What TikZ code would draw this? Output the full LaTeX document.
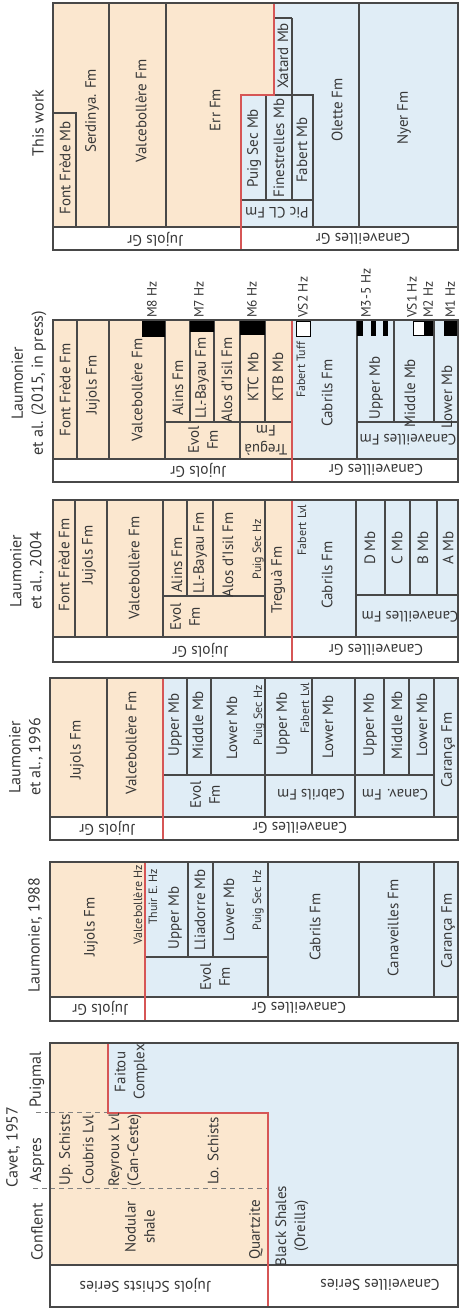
\documentclass[tikz,border=0pt]{standalone}
\usepackage{fontspec}
\setmainfont{PT Sans}
\definecolor{peach}{RGB}{251,231,207}
\definecolor{sky}{RGB}{224,237,246}
\definecolor{redc}{RGB}{214,86,86}
\definecolor{lc}{RGB}{72,72,72}
\definecolor{txt}{RGB}{55,55,55}
\newcommand\fmain{\fontsize{15}{19}\selectfont}
\newcommand\fsmall{\fontsize{12}{13}\selectfont}
\newcommand\fhz{\fontsize{13.5}{14}\selectfont}
\newcommand\fband{\fontsize{15.5}{18}\selectfont}
\newcommand\ftitle{\fontsize{16}{20}\selectfont}
\tikzset{
  ln/.style={draw=lc, line width=1.1pt},
  frm/.style={draw=lc, line width=1.6pt},
  rl/.style={draw=redc, line width=1.2pt},
  dl/.style={draw=gray, line width=0.9pt, dash pattern=on 5pt off 4pt},
  lbl/.style={rotate=90, font=\fmain, text=txt, inner sep=0pt, align=center},
  lblr/.style={rotate=180, font=\fmain, text=txt, inner sep=0pt, align=center},
  sml/.style={rotate=90, font=\fsmall, text=txt, inner sep=0pt, align=center},
  hz/.style={rotate=90, font=\fhz, text=txt, inner sep=0pt, anchor=west},
  bnd/.style={rotate=180, font=\fband, text=txt, inner sep=0pt},
  ttl/.style={rotate=90, font=\ftitle, text=txt, inner sep=0pt, align=center},
  blk/.style={fill=black},
  wbx/.style={fill=white, draw=black, line width=0.9pt}
}
\begin{document}
\begin{tikzpicture}[x=1pt,y=-1pt]
\useasboundingbox (0,0) rectangle (460,1309);
\fill[white] (0,0) rectangle (460,1309);

%% ================= Panel 1: This work
\fill[peach] (53,3) -- (274,3) -- (274,95) -- (241,95) -- (241,227) -- (53,227) -- cycle;
\fill[sky] (274,3) -- (458,3) -- (458,227) -- (241,227) -- (241,95) -- (274,95) -- cycle;
\draw[ln] (53,227) -- (458,227);
\draw[ln] (109,3) -- (109,227);
\draw[ln] (166,3) -- (166,227);
\draw[ln] (53,113) -- (76,113) -- (76,227);
\draw[ln] (274,95) -- (313,95) -- (313,227);
\draw[ln] (241,200) -- (313,200);
\draw[ln] (266,95) -- (266,200);
\draw[ln] (292,18) -- (292,200);
\draw[ln] (274,18) -- (292,18);
\draw[ln] (359,3) -- (359,227);
\draw[rl] (274,3) -- (274,95) -- (241,95) -- (241,250);
\draw[frm] (53,3) rectangle (458,250);

\node[ttl] (t1) at (38,123) {This work};
\node[lbl] (p1a) at (65,168) {Font Frède Mb};
\node[lbl] (p1b) at (92,111) {Serdinya. Fm};
\node[lbl] (p1c) at (141,111) {Valcebollère Fm};
\node[lbl] (p1d) at (215,110) {Err Fm};
\node[lbl] (p1e) at (254,148) {Puig Sec Mb};
\node[lbl] (p1f) at (279,148) {Finestrelles Mb};
\node[lbl] (p1g) at (283,56) {Xatard Mb};
\node[lbl] (p1h) at (302,150) {Fabert Mb};
\node[lblr] (p1i) at (277,213) {Pic CL Fm};
\node[lbl] (p1j) at (337,110) {Olette Fm};
\node[lbl] (p1k) at (404,118) {Nyer Fm};
\node[bnd] (p1l) at (155,239) {Jujols Gr};
\node[bnd] (p1m) at (363,239) {Canaveilles Gr};

%% ================= Panel 2: Laumonier et al. 2015
\fill[peach] (53,320) rectangle (292,459);
\fill[sky] (292,320) rectangle (458,459);
\draw[ln] (53,459) -- (458,459);
\foreach \xx in {77,109,165,240,357} {\draw[ln] (\xx,320) -- (\xx,459);}
\foreach \xx in {190,214,265,394,434} {\draw[ln] (\xx,320) -- (\xx,422);}
\draw[ln] (165,422) -- (292,422);
\draw[ln] (357,422) -- (458,422);
\draw[rl] (292,320) -- (292,482);
\fill[blk] (142,321) rectangle (165,337);
\fill[blk] (190,321) rectangle (214,332);
\fill[blk] (240,321) rectangle (265,335);
\draw[wbx] (296,321) rectangle (310,336);
\fill[blk] (357,321) rectangle (363,336);
\fill[blk] (371,321) rectangle (376,336);
\fill[blk] (383,321) rectangle (388,336);
\draw[wbx] (413,321) rectangle (424,335);
\fill[blk] (424,321) rectangle (433,336);
\fill[blk] (444,321) rectangle (458,336);
\draw[frm] (53,320) rectangle (458,482);

\node[ttl] (t2) at (29,383) {Laumonier\\et al. (2015, in press)};
\node[hz] (h8) at (152,318) {M8 Hz};
\node[hz] (h7) at (199,318) {M7 Hz};
\node[hz] (h6) at (252,318) {M6 Hz};
\node[hz] (hv2) at (303,318) {VS2 Hz};
\node[hz] (h35) at (366,318) {M3-5 Hz};
\node[hz] (hv1) at (412,318) {VS1 Hz};
\node[hz] (h2) at (428,318) {M2 Hz};
\node[hz] (h1) at (450,318) {M1 Hz};
\node[lbl] (p2a) at (65,390) {Font Frède Fm};
\node[lbl] (p2b) at (93,385) {Jujols Fm};
\node[lbl] (p2c) at (137,390) {Valcebollère Fm};
\node[lbl] (p2d) at (178,388) {Alins Fm};
\node[lbl] (p2e) at (202,378) {Ll.-Bayau Fm};
\node[lbl] (p2f) at (227,380) {Alos d'Isil Fm};
\node[lbl] (p2g) at (203,440) {Evol\\Fm};
\node[lbl] (p2h) at (253,377) {KTC Mb};
\node[lbl] (p2i) at (278,377) {KTB Mb};
\node[lblr] (p2j) at (266,440) {Treguà\\Fm};
\node[sml] (p2k) at (301,370) {Fabert Tuff};
\node[lbl] (p2l) at (327,393) {Cabrils Fm};
\node[lbl] (p2m) at (376,388) {Upper Mb};
\node[lbl] (p2n) at (410,393) {Middle Mb};
\node[lbl] (p2o) at (447,397) {Lower Mb};
\node[lblr] (p2p) at (408,440) {Canaveilles Fm};
\node[bnd] (p2q) at (198,470) {Jujols Gr};
\node[bnd] (p2r) at (376,470) {Canaveilles Gr};

%% ================= Panel 3: Laumonier et al. 2004
\fill[peach] (53,500) rectangle (292,637);
\fill[sky] (292,500) rectangle (458,637);
\draw[ln] (53,637) -- (458,637);
\foreach \xx in {75,107,163,265,356} {\draw[ln] (\xx,500) -- (\xx,637);}
\foreach \xx in {187,213} {\draw[ln] (\xx,500) -- (\xx,596);}
\foreach \xx in {385,410,437} {\draw[ln] (\xx,500) -- (\xx,595);}
\draw[ln] (163,596) -- (265,596);
\draw[ln] (356,595) -- (458,595);
\draw[rl] (292,500) -- (292,662);
\draw[frm] (53,500) rectangle (458,662);

\node[ttl] (t3) at (27,571) {Laumonier\\et al., 2004};
\node[lbl] (p3a) at (64,565) {Font Frède Fm};
\node[lbl] (p3b) at (89,555) {Jujols Fm};
\node[lbl] (p3c) at (134,568) {Valcebollère Fm};
\node[lbl] (p3d) at (177,565) {Alins Fm};
\node[lbl] (p3e) at (200,553) {Ll.-Bayau Fm};
\node[lbl] (p3f) at (228,555) {Alos d'Isil Fm};
\node[sml] (p3g) at (258,549) {Puig Sec Hz};
\node[lbl] (p3h) at (185,617) {Evol\\Fm};
\node[lbl] (p3i) at (278,580) {Treguà Fm};
\node[sml] (p3j) at (302,530) {Fabert Lvl};
\node[lbl] (p3k) at (327,575) {Cabrils Fm};
\node[lbl] (p3l) at (370,548) {D Mb};
\node[lbl] (p3m) at (397,548) {C Mb};
\node[lbl] (p3n) at (423,548) {B Mb};
\node[lbl] (p3o) at (448,548) {A Mb};
\node[lblr] (p3p) at (410,617) {Canaveilles Fm};
\node[bnd] (p3q) at (200,650) {Jujols Gr};
\node[bnd] (p3r) at (376,650) {Canaveilles Gr};

%% ================= Panel 4: Laumonier et al. 1996
\fill[peach] (50,678) rectangle (163,817);
\fill[sky] (163,678) rectangle (458,817);
\draw[ln] (50,817) -- (458,817);
\foreach \xx in {107,265,355,434} {\draw[ln] (\xx,678) -- (\xx,817);}
\foreach \xx in {187,211,312,384,409} {\draw[ln] (\xx,678) -- (\xx,775);}
\draw[ln] (163,775) -- (434,775);
\draw[rl] (163,678) -- (163,840);
\draw[frm] (50,678) rectangle (458,840);

\node[ttl] (t4) at (26,757) {Laumonier\\et al., 1996};
\node[lbl] (p4a) at (77,750) {Jujols Fm};
\node[lbl] (p4b) at (131,743) {Valcebollère Fm};
\node[lbl] (p4c) at (175,725) {Upper Mb};
\node[lbl] (p4d) at (198,725) {Middle Mb};
\node[lbl] (p4e) at (232,728) {Lower Mb};
\node[sml] (p4f) at (259,715) {Puig Sec Hz};
\node[lbl] (p4g) at (205,795) {Evol\\Fm};
\node[lbl] (p4h) at (283,724) {Upper Mb};
\node[sml] (p4i) at (305,708) {Fabert Lvl};
\node[lbl] (p4j) at (328,727) {Lower Mb};
\node[lbl] (p4k) at (370,725) {Upper Mb};
\node[lbl] (p4l) at (397,725) {Middle Mb};
\node[lbl] (p4m) at (422,725) {Lower Mb};
\node[lbl] (p4n) at (448,750) {Carança Fm};
\node[lblr] (p4o) at (311,795) {Cabrils Fm};
\node[lblr] (p4p) at (395,795) {Canav. Fm};
\node[bnd] (p4q) at (107,828) {Jujols Gr};
\node[bnd] (p4r) at (300,828) {Canaveilles Gr};

%% ================= Panel 5: Laumonier 1988
\fill[peach] (50,862) rectangle (145,997);
\fill[sky] (145,862) rectangle (458,997);
\draw[ln] (50,997) -- (458,997);
\foreach \xx in {268,359,434} {\draw[ln] (\xx,862) -- (\xx,997);}
\foreach \xx in {188,213} {\draw[ln] (\xx,862) -- (\xx,957);}
\draw[ln] (145,957) -- (268,957);
\draw[rl] (145,862) -- (145,1021);
\draw[frm] (50,862) rectangle (458,1021);

\node[ttl] (t5) at (35,935) {Laumonier, 1988};
\node[lbl] (p5a) at (91,927) {Jujols Fm};
\node[sml] (p5b) at (138,905) {Valcebollère Hz};
\node[sml] (p5c) at (153,897) {Thuir E. Hz};
\node[lbl] (p5d) at (175,918) {Upper Mb};
\node[lbl] (p5e) at (200,910) {Lliadorre Mb};
\node[lbl] (p5f) at (229,910) {Lower Mb};
\node[sml] (p5g) at (258,900) {Puig Sec Hz};
\node[lbl] (p5h) at (215,977) {Evol\\Fm};
\node[lbl] (p5i) at (315,927) {Cabrils Fm};
\node[lbl] (p5j) at (393,928) {Canaveilles Fm};
\node[lbl] (p5k) at (448,931) {Carança Fm};
\node[bnd] (p5l) at (100,1008) {Jujols Gr};
\node[bnd] (p5m) at (299,1008) {Canaveilles Gr};

%% ================= Panel 6: Cavet 1957
\fill[peach] (50,1043) -- (108,1043) -- (108,1113) -- (268,1113) -- (268,1265) -- (50,1265) -- cycle;
\fill[sky] (108,1043) -- (458,1043) -- (458,1265) -- (268,1265) -- (268,1113) -- (108,1113) -- cycle;
\draw[dl] (50,1112) -- (108,1112);
\draw[dl] (50,1188) -- (268,1188);
\draw[frm] (50,1265) -- (458,1265);
\draw[rl] (108,1043) -- (108,1113) -- (268,1113) -- (268,1307);
\draw[frm] (50,1043) rectangle (458,1307);
\draw[dl] (33,1188) -- (48,1188);
\draw[dl] (36,1112) -- (48,1112);

\node[ttl] (t6) at (13,1147) {Cavet, 1957};
\node[ttl] (t6a) at (37,1232) {Conflent};
\node[ttl] (t6b) at (37,1160) {Aspres};
\node[ttl] (t6c) at (37,1080) {Puigmal};
\node[lbl] (p6a) at (66,1150) {Up. Schists};
\node[lbl] (p6b) at (88,1150) {Coubris Lvl};
\node[lbl] (p6c) at (125,1150) {Reyroux Lvl\\(Can-Ceste)};
\node[lbl] (p6d) at (213,1151) {Lo. Schists};
\node[lbl] (p6e) at (140,1227) {Nodular\\shale};
\node[lbl] (p6f) at (256,1230) {Quartzite};
\node[lbl] (p6g) at (292,1226) {Black Shales\\(Oreilla)};
\node[lbl] (p6h) at (131,1072) {Faitou\\Complex};
\node[bnd] (p6i) at (145,1285) {Jujols Schists Series};
\node[bnd] (p6j) at (380,1285) {Canaveilles Series};
\end{tikzpicture}
\end{document}
